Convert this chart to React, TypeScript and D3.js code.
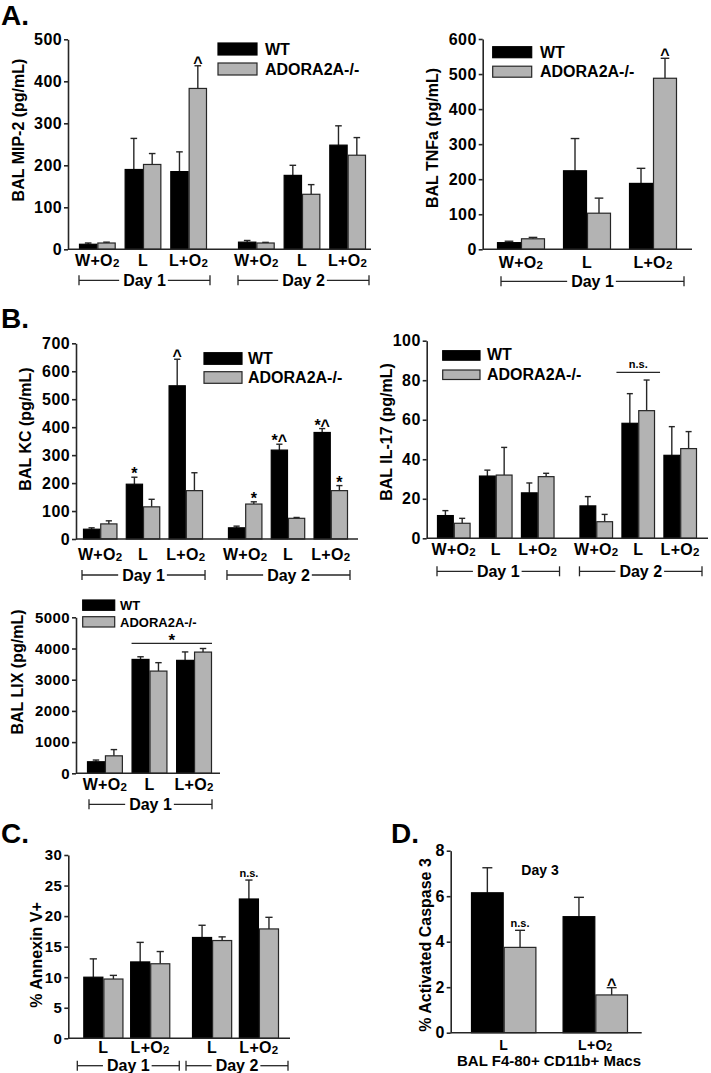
import React, { useEffect, useRef } from 'react'
import * as d3 from 'd3'

const FONT = "'Liberation Sans', Arial, Helvetica, sans-serif"
const GREY = '#b3b3b3'
const INK = '#262626'

const series = ['WT', 'ADORA2A-/-']
const days2 = ['Day 1', 'Day 2']
const day1 = ['Day 1']
const day3 = ['Day 3']
const conds3 = ['W+O2', 'L', 'L+O2']
const conds2 = ['L', 'L+O2']

// A. BAL MIP-2 (pg/mL) — Day 1 (W+O2, L, L+O2), then Day 2
const mip2WT = [12, 190, 185, 17, 176, 248]
const mip2WTErr = [3, 74, 47, 4, 24, 46]
const mip2KO = [15, 202, 383, 15, 131, 224]
const mip2KOErr = [2, 26, 54, 1.5, 23, 42]

// A. BAL TNFa (pg/mL) — Day 1
const tnfWT = [19, 224, 188]
const tnfWTErr = [4, 92, 43]
const tnfKO = [30, 103, 488]
const tnfKOErr = [4, 43, 57]

// B. BAL KC (pg/mL)
const kcWT = [35, 196, 548, 40, 318, 381]
const kcWTErr = [5, 25, 95, 6, 21, 14]
const kcKO = [54, 115, 173, 125, 74, 173]
const kcKOErr = [11, 27, 64, 8, 3, 18]

// B. BAL IL-17 (pg/mL)
const il17WT = [11.5, 31.5, 23, 16.4, 58.2, 42]
const il17WTErr = [2.5, 3, 5, 4.7, 15, 14.5]
const il17KO = [7.6, 32, 31.2, 8.4, 64.6, 45.4]
const il17KOErr = [2.5, 14, 1.7, 3.7, 15.5, 8.6]

// B. BAL LIX (pg/mL) — Day 1
const lixWT = [370, 3650, 3620]
const lixWTErr = [55, 85, 270]
const lixKO = [560, 3276, 3885]
const lixKOErr = [200, 270, 115]

// C. % Annexin V+ — Day 1 (L, L+O2), Day 2 (L, L+O2)
const annexWT = [10, 12.5, 16.5, 22.8]
const annexWTErr = [3, 3.2, 2, 3.1]
const annexKO = [9.7, 12.2, 16, 17.9]
const annexKOErr = [0.6, 2, 0.6, 1.9]

// D. % Activated Caspase 3 — Day 3 (L, L+O2)
const caspWT = [6.15, 5.1]
const caspWTErr = [1.1, 0.85]
const caspKO = [3.75, 1.66]
const caspKOErr = [0.75, 0.32]

interface Mark { day: string; cond: string; s: number; text: string }
interface Span { day: string; from: string; to: string; value: number; text: string; size: number; ext: number }
interface Legend { x: number; y: number; w: number; h: number; gap: number; textX: number; size: number }

interface Panel {
  axisX: [number, number]
  yPx: [number, number]
  yMax: number
  yStep: number
  days: string[]
  conds: string[]
  values: number[][]
  errors: number[][]
  band: [number, number]
  dayPad: number
  condPad: number
  yLabel: string
  yLabelPos: [number, number]
  tickFont: number
  xFont: number
  xLabelDy: number
  bracketDy?: number
  bracketExt?: [number, number]
  legend?: Legend
  marks?: Mark[]
  spans?: Span[]
}

const panels: Panel[] = [
  {
    axisX: [68, 371], yPx: [249.3, 39.3], yMax: 500, yStep: 100,
    days: days2, conds: conds3,
    values: [mip2WT, mip2KO], errors: [mip2WTErr, mip2KOErr],
    band: [79, 366], dayPad: 0.195, condPad: 0.196,
    yLabel: 'BAL MIP-2 (pg/mL)', yLabelPos: [18, 130],
    tickFont: 16, xFont: 16, xLabelDy: 17, bracketDy: 31, bracketExt: [0, 3],
    legend: { x: 218, y: 43, w: 39, h: 12, gap: 20, textX: 265, size: 16 },
    marks: [{ day: 'Day 1', cond: 'L+O2', s: 1, text: '^' }],
  },
  {
    axisX: [482.7, 692], yPx: [249.3, 39], yMax: 600, yStep: 100,
    days: day1, conds: conds3,
    values: [tnfWT, tnfKO], errors: [tnfWTErr, tnfKOErr],
    band: [497, 677], dayPad: 0, condPad: 0.273,
    yLabel: 'BAL TNFa (pg/mL)', yLabelPos: [432, 138],
    tickFont: 16, xFont: 16, xLabelDy: 19, bracketDy: 32, bracketExt: [-4, 7],
    legend: { x: 492.7, y: 46.7, w: 39, h: 11, gap: 19.5, textX: 540, size: 16 },
    marks: [{ day: 'Day 1', cond: 'L+O2', s: 1, text: '^' }],
  },
  {
    axisX: [76, 358], yPx: [539, 343.3], yMax: 700, yStep: 100,
    days: days2, conds: conds3,
    values: [kcWT, kcKO], errors: [kcWTErr, kcKOErr],
    band: [83, 348], dayPad: 0.172, condPad: 0.195,
    yLabel: 'BAL KC (pg/mL)', yLabelPos: [25, 429],
    tickFont: 16, xFont: 16, xLabelDy: 21, bracketDy: 36, bracketExt: [1, 2],
    legend: { x: 204, y: 352.7, w: 38, h: 11.6, gap: 19, textX: 248, size: 16 },
    marks: [
      { day: 'Day 1', cond: 'L', s: 0, text: '*' },
      { day: 'Day 1', cond: 'L+O2', s: 0, text: '^' },
      { day: 'Day 2', cond: 'W+O2', s: 1, text: '*' },
      { day: 'Day 2', cond: 'L', s: 0, text: '*^' },
      { day: 'Day 2', cond: 'L+O2', s: 0, text: '*^' },
      { day: 'Day 2', cond: 'L+O2', s: 1, text: '*' },
    ],
  },
  {
    axisX: [426.7, 708], yPx: [538.3, 340.7], yMax: 100, yStep: 20,
    days: days2, conds: conds3,
    values: [il17WT, il17KO], errors: [il17WTErr, il17KOErr],
    band: [437, 697], dayPad: 0.175, condPad: 0.2,
    yLabel: 'BAL IL-17 (pg/mL)', yLabelPos: [386.7, 432],
    tickFont: 16, xFont: 16, xLabelDy: 17, bracketDy: 33, bracketExt: [0, 5],
    legend: { x: 442.7, y: 350.7, w: 37.3, h: 9.5, gap: 19.3, textX: 487, size: 16 },
    spans: [{ day: 'Day 2', from: 'L', to: 'L', value: 84, text: 'n.s.', size: 11, ext: 5 }],
  },
  {
    axisX: [76, 220], yPx: [773.3, 617.3], yMax: 5000, yStep: 1000,
    days: day1, conds: conds3,
    values: [lixWT, lixKO], errors: [lixWTErr, lixKOErr],
    band: [87, 212], dayPad: 0, condPad: 0.195,
    yLabel: 'BAL LIX (pg/mL)', yLabelPos: [17, 672],
    tickFont: 15, xFont: 16, xLabelDy: 17, bracketDy: 31, bracketExt: [-2, 0],
    legend: { x: 82.7, y: 600, w: 32, h: 10.3, gap: 16.7, textX: 120, size: 13 },
    spans: [{ day: 'Day 1', from: 'L', to: 'L+O2', value: 4167, text: '*', size: 17, ext: 0 }],
  },
  {
    axisX: [68.3, 290], yPx: [1038.3, 855], yMax: 30, yStep: 5,
    days: days2, conds: conds2,
    values: [annexWT, annexKO], errors: [annexWTErr, annexKOErr],
    band: [83.3, 279], dayPad: 0.2, condPad: 0.143,
    yLabel: '% Annexin V+', yLabelPos: [36, 955],
    tickFont: 15, xFont: 16, xLabelDy: 15, bracketDy: 27.4, bracketExt: [6, 9],
    marks: [{ day: 'Day 2', cond: 'L+O2', s: 0, text: 'n.s.' }],
  },
  {
    axisX: [450.7, 641.7], yPx: [1032.7, 850.7], yMax: 8, yStep: 2,
    days: day3, conds: conds2,
    values: [caspWT, caspKO], errors: [caspWTErr, caspKOErr],
    band: [471, 628], dayPad: 0, condPad: 0.286,
    yLabel: '% Activated Caspase 3', yLabelPos: [425, 945],
    tickFont: 16, xFont: 14, xLabelDy: 17,
    marks: [
      { day: 'Day 3', cond: 'L', s: 1, text: 'n.s.' },
      { day: 'Day 3', cond: 'L+O2', s: 1, text: '^' },
    ],
  },
]

const letters = [
  { text: 'A.', x: 1, y: 25 },
  { text: 'B.', x: 1, y: 328 },
  { text: 'C.', x: 1, y: 843 },
  { text: 'D.', x: 391, y: 843 },
]

const notes = [
  { text: 'Day 3', x: 540, y: 875, size: 14 },
  { text: 'BAL F4-80+ CD11b+ Macs', x: 549, y: 1066, size: 15 },
]

function condLabel(sel: d3.Selection<SVGTextElement, unknown, null, undefined>, cond: string) {
  const m = cond.match(/^(.*O)2$/)
  if (m) {
    sel.append('tspan').text(m[1])
    sel.append('tspan').attr('font-size', '72%').attr('dy', 1).text('2')
  } else {
    sel.text(cond)
  }
}

function drawPanel(svg: d3.Selection<SVGSVGElement, unknown, null, undefined>, p: Panel) {
  const g = svg.append('g').attr('font-family', FONT).attr('font-weight', 'bold')
  const y = d3.scaleLinear().domain([0, p.yMax]).range(p.yPx)
  const xDay = d3.scaleBand().domain(p.days).range(p.band).paddingInner(p.dayPad)
  const xCond = d3.scaleBand().domain(p.conds).range([0, xDay.bandwidth()]).paddingInner(p.condPad)
  const xSer = d3.scaleBand().domain(series).range([0, xCond.bandwidth()])
  const groupX = (day: string, cond: string) => xDay(day)! + xCond(cond)!

  const rows = p.days.flatMap((day, di) =>
    p.conds.map((cond, ci) => ({ day, cond, i: di * p.conds.length + ci })))
  const bars = rows.flatMap(r => series.map((s, si) => ({
    ...r, si, v: p.values[si][r.i], e: p.errors[si][r.i],
  })))
  const barX = (d: { day: string; cond: string; si: number }) => groupX(d.day, d.cond) + xSer(series[d.si])!
  const bw = xSer.bandwidth()
  const capHalf = Math.max(3, Math.min(5, bw * 0.18))

  // error bars (up only)
  const eg = g.append('g').attr('stroke', INK).attr('stroke-width', 1.4)
  bars.forEach(d => {
    const cx = barX(d) + bw / 2
    eg.append('line').attr('x1', cx).attr('x2', cx).attr('y1', y(d.v)).attr('y2', y(d.v + d.e))
    eg.append('line').attr('x1', cx - capHalf).attr('x2', cx + capHalf)
      .attr('y1', y(d.v + d.e)).attr('y2', y(d.v + d.e))
  })

  g.append('g').selectAll('rect').data(bars).join('rect')
    .attr('x', d => barX(d) + 0.5)
    .attr('width', bw - 1)
    .attr('y', d => y(d.v))
    .attr('height', d => y(0) - y(d.v))
    .attr('fill', d => d.si ? GREY : '#000')
    .attr('stroke', d => d.si ? INK : '#000')
    .attr('stroke-width', 1.2)

  // y axis
  const ticks = d3.range(0, p.yMax + p.yStep / 2, p.yStep)
  const ag = g.append('g').attr('transform', `translate(${p.axisX[0]},0)`)
    .call(d3.axisLeft(y).tickValues(ticks).tickSize(4).tickSizeOuter(0).tickPadding(2).tickFormat(d3.format('d')))
  ag.attr('font-family', FONT).attr('font-size', p.tickFont)
  ag.selectAll('path, line').attr('stroke', INK).attr('stroke-width', 1.6)
  ag.selectAll('text').attr('fill', '#000').attr('font-weight', 'bold').attr('letter-spacing', 0.4)

  // x baseline
  g.append('line').attr('x1', p.axisX[0]).attr('x2', p.axisX[1])
    .attr('y1', y(0)).attr('y2', y(0)).attr('stroke', INK).attr('stroke-width', 1.6)

  // category labels
  rows.forEach(r => {
    const t = g.append('text')
      .attr('x', groupX(r.day, r.cond) + xCond.bandwidth() / 2)
      .attr('y', y(0) + p.xLabelDy)
      .attr('text-anchor', 'middle')
      .attr('font-size', p.xFont)
      .attr('letter-spacing', 0.3)
    condLabel(t, r.cond)
  })

  // day brackets
  if (p.bracketDy !== undefined) {
    const by = y(0) + p.bracketDy
    const [el, er] = p.bracketExt ?? [0, 0]
    p.days.forEach(day => {
      const x0 = xDay(day)! - el
      const x1 = xDay(day)! + xDay.bandwidth() + er
      const cx = (x0 + x1) / 2
      const t = g.append('text').attr('x', cx).attr('y', by).attr('dy', '0.35em')
        .attr('text-anchor', 'middle').attr('font-size', 16).text(day)
      const w = (t.node() as SVGTextElement).getComputedTextLength() || 43
      const bg = g.append('g').attr('stroke', INK).attr('stroke-width', 1.3)
      bg.append('line').attr('x1', x0).attr('x2', cx - w / 2 - 4).attr('y1', by).attr('y2', by)
      bg.append('line').attr('x1', cx + w / 2 + 2).attr('x2', x1).attr('y1', by).attr('y2', by)
      ;[x0, x1].forEach(xx => bg.append('line').attr('x1', xx).attr('x2', xx).attr('y1', by - 5).attr('y2', by + 5))
    })
  }

  // significance marks over single bars
  ;(p.marks ?? []).forEach(m => {
    const row = rows.find(r => r.day === m.day && r.cond === m.cond)!
    const v = p.values[m.s][row.i]
    const e = p.errors[m.s][row.i]
    const small = m.text === 'n.s.'
    g.append('text')
      .attr('x', barX({ day: m.day, cond: m.cond, si: m.s }) + bw / 2)
      .attr('y', y(v + e) + (small ? -3.5 : 2))
      .attr('text-anchor', 'middle')
      .attr('font-size', small ? 11 : 16)
      .text(m.text)
  })

  // marks over a span of groups
  ;(p.spans ?? []).forEach(s => {
    const x0 = groupX(s.day, s.from) - s.ext
    const x1 = groupX(s.day, s.to) + xCond.bandwidth() + s.ext
    const ly = y(s.value)
    g.append('line').attr('x1', x0).attr('x2', x1).attr('y1', ly).attr('y2', ly)
      .attr('stroke', INK).attr('stroke-width', 1.2)
    g.append('text').attr('x', (x0 + x1) / 2).attr('y', s.text === '*' ? ly + 3 : ly - 4)
      .attr('text-anchor', 'middle').attr('font-size', s.size).text(s.text)
  })

  // y label
  g.append('text')
    .attr('transform', `translate(${p.yLabelPos[0]},${p.yLabelPos[1]}) rotate(-90)`)
    .attr('dy', '0.35em')
    .attr('text-anchor', 'middle')
    .attr('font-size', 16)
    .text(p.yLabel)

  // legend
  if (p.legend) {
    const L = p.legend
    series.forEach((s, si) => {
      const ry = L.y + si * L.gap
      g.append('rect').attr('x', L.x).attr('y', ry).attr('width', L.w).attr('height', L.h)
        .attr('fill', si ? GREY : '#000').attr('stroke', si ? INK : '#000').attr('stroke-width', 1.2)
      g.append('text').attr('x', L.textX).attr('y', ry + L.h).attr('font-size', L.size).text(s)
    })
  }
}

export default function AdoraFigure() {
  const svgRef = useRef<SVGSVGElement>(null)

  useEffect(() => {
    if (!svgRef.current) return
    const svg = d3.select(svgRef.current)
    svg.selectAll('*').remove()
    svg.append('rect').attr('width', 711).attr('height', 1073).attr('fill', '#fff')

    panels.forEach(p => drawPanel(svg, p))

    svg.append('g').selectAll('text').data(letters).join('text')
      .attr('x', d => d.x).attr('y', d => d.y)
      .attr('font-family', FONT).attr('font-weight', 'bold').attr('font-size', 28)
      .text(d => d.text)

    svg.append('g').selectAll('text').data(notes).join('text')
      .attr('x', d => d.x).attr('y', d => d.y).attr('text-anchor', 'middle')
      .attr('font-family', FONT).attr('font-weight', 'bold').attr('font-size', d => d.size)
      .text(d => d.text)
  }, [])

  return (
    <div style={{ position: 'absolute', left: 0, top: 0 }}>
      <svg ref={svgRef} width={711} height={1073} style={{ display: 'block' }}></svg>
    </div>
  )
}
